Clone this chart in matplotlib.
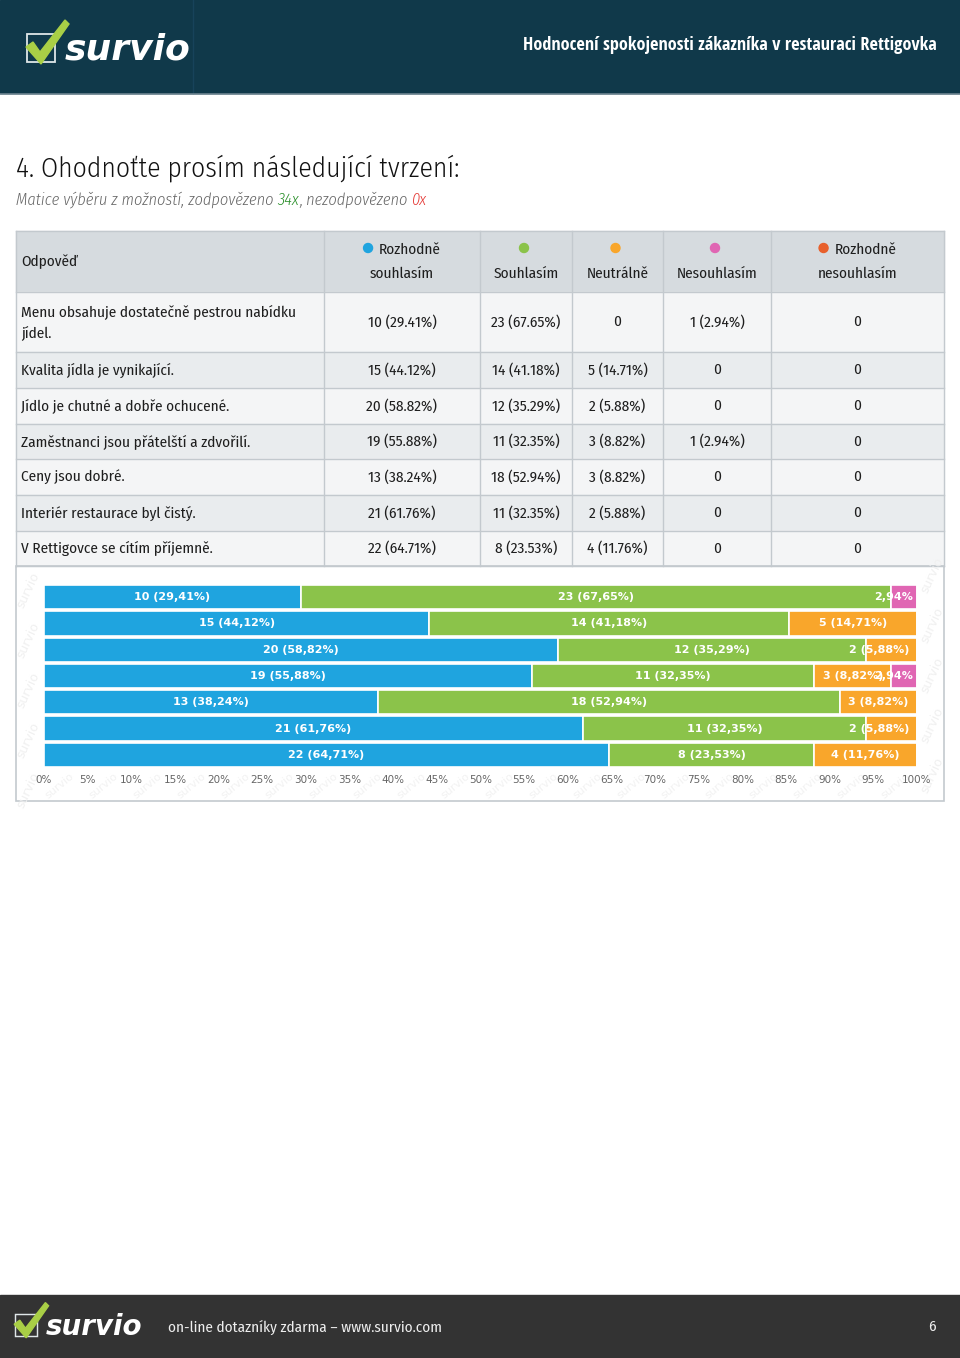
import numpy as np
import matplotlib
matplotlib.use('Agg')
import matplotlib.pyplot as plt
from matplotlib import font_manager as fm
from matplotlib.patches import Rectangle, Circle, Polygon

# data
statements = ['Menu obsahuje dostatečně pestrou nabídku\njídel.',
              'Kvalita jídla je vynikající.',
              'Jídlo je chutné a dobře ochucené.',
              'Zaměstnanci jsou přátelští a zdvořilí.',
              'Ceny jsou dobré.',
              'Interiér restaurace byl čistý.',
              'V Rettigovce se cítím příjemně.']
categories = ['Rozhodně souhlasím', 'Souhlasím', 'Neutrálně', 'Nesouhlasím', 'Rozhodně nesouhlasím']
strongly_agree = [10, 15, 20, 19, 13, 21, 22]
agree = [23, 14, 12, 11, 18, 11, 8]
neutral = [0, 5, 2, 3, 3, 2, 4]
disagree = [1, 0, 0, 1, 0, 0, 0]
strongly_disagree = [0, 0, 0, 0, 0, 0, 0]
answered = 34
unanswered = 0
xticks = list(range(0, 101, 5))

colors = ['#1fa4df', '#8bc34a', '#f9a62b', '#e066b3', '#e8602c']

ttf = fm.fontManager.ttflist


def pick(cands, lo, hi):
    for c in cands:
        if any(f.name == c and lo <= int(f.weight) <= hi and f.style == 'normal' for f in ttf):
            return c
    return 'DejaVu Sans'


narrow_cands = ['Open Sans Condensed', 'Fira Sans Condensed', 'PT Sans Narrow', 'Roboto Condensed',
                'Archivo Narrow', 'Asap Condensed']
NARROW = pick(narrow_cands, 300, 400)
HEAD = pick(narrow_cands, 600, 800)
TW = 300 if any(f.name == NARROW and int(f.weight) == 300 for f in ttf) else 400

series = np.array([strongly_agree, agree, neutral, disagree, strongly_disagree])
pct = series / answered * 100

fig = plt.figure(figsize=(9.6, 13.58), dpi=100)
bg = fig.add_axes([0, 0, 1, 1])
bg.set_xlim(0, 960)
bg.set_ylim(1358, 0)
bg.axis('off')
renderer = fig.canvas.get_renderer()


def fit_size(s, width, family=NARROW, **kw):
    # font size that makes string s about `width` pixels wide
    t = bg.text(0, 0, s, fontsize=12, family=family, **kw)
    w = t.get_window_extent(renderer).width
    t.remove()
    return 12 * width / w


fs_table = fit_size('Menu obsahuje dostatečně pestrou nabídku', 277, fontweight=400)
fs_title = fit_size('4. Ohodnoťte prosím následující tvrzení:', 446, fontweight=TW)
fs_head = fit_size('Hodnocení spokojenosti zákazníka v restauraci Rettigovka', 414, family=HEAD,
                   fontweight='bold')
fs_sub = fit_size('Matice výběru z možností, zodpovězeno 34x, nezodpovězeno 0x', 412,
                  fontweight=TW, style='italic')
fs_foot = fit_size('on-line dotazníky zdarma – www.survio.com', 275, fontweight=400)

# top bar
bg.add_patch(Rectangle((0, 0), 960, 93, color='#10394a'))
bg.plot([193, 193], [0, 93], color='#17435a', lw=1)
bg.plot([0, 960], [93.5, 93.5], color='#6d8490', lw=1.2)


def logo(x, y, s, fs):
    bg.add_patch(Rectangle((x, y - 14 * s), 28 * s, 28 * s, fill=False, ec='#dfe6e8', lw=1.3 * s))
    pts = np.array([(-1, -1), (6, -6), (13, 4), (38, -28), (42, -24), (14, 16)]) * s + [x, y]
    bg.add_patch(Polygon(pts, color='#a9cf46', zorder=3))
    bg.text(x + 38 * s, y + 2 * s, 'survio', color='white', fontsize=fs, fontweight='bold',
            style='italic', family='DejaVu Sans', va='center', ha='left')


logo(27, 48, 1.0, 26)
bg.text(937, 45, 'Hodnocení spokojenosti zákazníka v restauraci Rettigovka', color='white',
        fontsize=fs_head, fontweight='bold', family=HEAD, ha='right', va='center')

# question title
bg.text(16, 168, '4. Ohodnoťte prosím následující tvrzení:', fontsize=fs_title, family=NARROW,
        fontweight=TW, color='#111111', va='center')
x0 = 16
for part, col in [('Matice výběru z možností, zodpovězeno ', '#666666'), (f'{answered}x', '#2a8f2a'),
                  (', nezodpovězeno ', '#666666'), (f'{unanswered}x', '#e53935')]:
    t = bg.text(x0, 200, part, fontsize=fs_sub, family=NARROW, fontweight=TW, style='italic',
                color=col, va='center')
    x0 += t.get_window_extent(renderer).width

# table
col_x = [16, 324, 480, 572, 663, 771, 944]
row_y = [231, 292, 352, 388, 424, 459, 495, 531, 566]
tk = dict(fontsize=fs_table, family=NARROW, fontweight=400, color='#1e1e1e', va='center')
bg.add_patch(Rectangle((16, 231), 928, 61, color='#d6dbdf'))
for i in range(len(statements)):
    fc = '#f4f5f6' if i % 2 == 0 else '#e9ecee'
    bg.add_patch(Rectangle((16, row_y[i + 1]), 928, row_y[i + 2] - row_y[i + 1], color=fc))
for yy in row_y:
    bg.plot([16, 944], [yy, yy], color='#c3c9ce', lw=1)
for xx in col_x:
    bg.plot([xx, xx], [231, 566], color='#c3c9ce', lw=1)

bg.text(21, 262, 'Odpověď', **tk)
for j, name in enumerate(categories):
    cx = (col_x[j + 1] + col_x[j + 2]) / 2
    words = name.split(' ')
    if len(words) == 2:
        t = bg.text(cx + 8, 250, words[0], ha='center', **tk)
        w = t.get_window_extent(renderer).width
        bg.add_patch(Circle((cx + 8 - w / 2 - 11, 248), 4.5, color=colors[j]))
        bg.text(cx, 274, words[1], ha='center', **tk)
    else:
        bg.add_patch(Circle((cx - 2, 248), 4.5, color=colors[j]))
        bg.text(cx, 274, name, ha='center', **tk)

for i, s in enumerate(statements):
    yc = (row_y[i + 1] + row_y[i + 2]) / 2
    bg.text(21, yc, s, linespacing=1.55, **tk)
    for j in range(len(categories)):
        cx = (col_x[j + 1] + col_x[j + 2]) / 2
        v = series[j, i]
        txt = f'{v} ({pct[j, i]:.2f}%)' if v else '0'
        bg.text(cx, yc, txt, ha='center', **tk)

# chart box
bg.add_patch(Rectangle((16, 566), 928, 235, fill=False, ec='#c3c9ce', lw=1.2))
for yy in [590, 640, 690, 740, 790]:
    bg.text(28, yy, 'survio', fontsize=9, color='#f0f0f0', rotation=65, ha='center', va='center')
    bg.text(932, yy - 15, 'survio', fontsize=9, color='#f0f0f0', rotation=65, ha='center', va='center')
for xx in range(60, 920, 44):
    bg.text(xx, 786, 'survio', fontsize=8, color='#f2f2f2', rotation=40, ha='center', va='center')

ax = fig.add_axes([44 / 960, 1 - 768 / 1358, 873 / 960, 184 / 1358])
ax.patch.set_alpha(0)
ypos = np.arange(len(statements))
left = np.zeros(len(statements))
for j in range(len(categories)):
    ax.barh(ypos, pct[j], left=left, height=0.92, color=colors[j], edgecolor='white', linewidth=1.2)
    for i in range(len(statements)):
        if series[j, i] == 0:
            continue
        p = pct[j, i]
        lab = f'{p:.2f}%'.replace('.', ',') if p < 5 else f'{series[j, i]} ({p:.2f}%)'.replace('.', ',')
        half = len(lab) * 7.1 / 2 / 8.73
        xc = min(left[i] + p / 2, 99.3 - half)
        ax.text(xc, i, lab, color='white', fontsize=8, fontweight='bold', ha='center', va='center')
    left += pct[j]

ax.set_xlim(0, 100)
ax.set_ylim(len(statements) - 0.5, -0.5)
ax.set_xticks(xticks)
ax.set_xticklabels([f'{t}%' for t in xticks], fontsize=7.5, color='#666666')
ax.set_yticks([])
ax.tick_params(axis='x', length=0, pad=5)
for sp in ax.spines.values():
    sp.set_visible(False)

# footer
bg.add_patch(Rectangle((0, 1295), 960, 63, color='#333333'))
logo(15, 1325, 0.8, 20)
bg.text(168, 1327, 'on-line dotazníky zdarma – www.survio.com', fontsize=fs_foot, family=NARROW,
        fontweight=400, color='#eeeeee', va='center')
bg.text(936, 1327, '6', fontsize=fs_foot, family=NARROW, fontweight=400, color='#eeeeee',
        va='center', ha='right')

plt.savefig('out.png', dpi=100)
